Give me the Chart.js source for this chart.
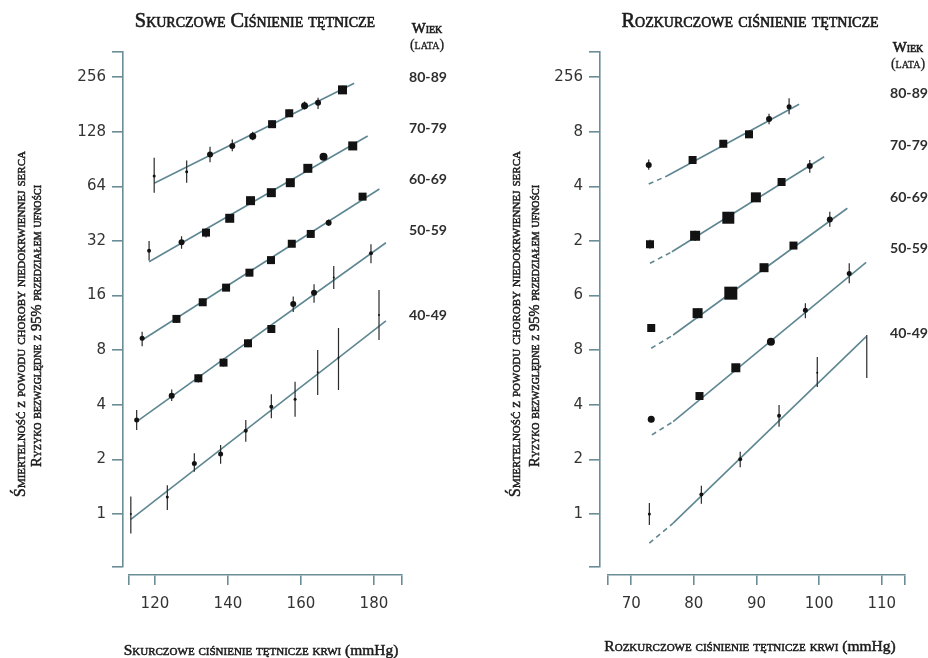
<!DOCTYPE html>
<html>
<head>
<meta charset="utf-8">
<script src="https://cdn.jsdelivr.net/npm/chart.js@4/dist/chart.umd.min.js"></script>
<style>
  html, body { margin: 0; padding: 0; background: #ffffff; }
  body { width: 928px; height: 658px; position: relative; overflow: hidden; }
  .panel { position: absolute; top: 0; width: 464px; height: 658px; }
</style>
</head>
<body>
<div class="panel" style="left:0"><canvas id="sys"></canvas></div>
<div class="panel" style="left:464px"><canvas id="dia"></canvas></div>
<script>
// ---------------- DATA ----------------
const ageGroups = ['80-89', '70-79', '60-69', '50-59', '40-49'];
const yTickValues = [1, 2, 4, 8, 16, 32, 64, 128, 256];
const sysYTickLabels = ['1', '2', '4', '8', '16', '32', '64', '128', '256'];
const diaYTickLabels = ['1', '2', '4', '8', '6', '2', '4', '8', '256'];
const sysXTicks = [120, 140, 160, 180];
const diaXTicks = [70, 80, 90, 100, 110];

// Systolic panel: one row per age group (80-89 ... 40-49)
const sysX = [
  [119.8, 128.7, 135.1, 141.2, 146.8, 152.1, 156.8, 161.0, 164.7, 171.4],
  [118.4, 127.3, 134.0, 140.5, 146.2, 151.9, 157.1, 161.9, 166.2, 174.2],
  [116.5, 125.9, 133.1, 139.5, 145.9, 151.8, 157.5, 162.7, 167.6, 176.9],
  [115.0, 124.6, 131.9, 138.8, 145.5, 151.9, 157.9, 163.6, 169.0, 179.2],
  [113.4, 123.4, 130.8, 138.0, 144.9, 151.9, 158.4, 164.6, 170.3, 181.4]
];
const sysRisk = [
  [73, 77, 96, 107, 121, 141, 162, 178, 185, 218],
  [28.3, 31.5, 35.6, 42.7, 53.4, 59.1, 67.1, 80.5, 93.3, 107],
  [9.3, 11.9, 14.7, 17.7, 21.4, 25.1, 30.9, 35, 40.4, 56.2],
  [3.3, 4.49, 5.6, 6.83, 8.73, 10.47, 14.4, 16.6, 20.1, 27.4],
  [1.0, 1.24, 1.9, 2.14, 2.88, 3.9, 4.29, 6.04, 7.27, 12.5]
];
const sysLow = [
  [59, 67, 87, 100, 115, 135, 155, 170, 171, 208],
  [25, 29, 33.5, 41, 51.5, 57, 65, 78, 90, 103],
  [8.4, 11.3, 14, 17, 20.6, 24.2, 29.8, 33.8, 38.8, 54],
  [2.9, 4.2, 5.3, 6.5, 8.3, 10, 13, 14.6, 17.4, 24.1],
  [0.78, 1.05, 1.71, 1.89, 2.5, 3.37, 3.44, 4.53, 4.83, 9.1]
];
const sysHigh = [
  [92, 89, 106, 116, 128, 148, 170, 188, 197, 230],
  [32, 34, 37.5, 44.5, 55.5, 61.5, 69.5, 83, 97, 111],
  [10.1, 12.5, 15.4, 18.4, 22.2, 26, 32, 36.3, 42, 58.5],
  [3.74, 4.85, 5.9, 7.2, 9.2, 11, 15.8, 18.5, 23.3, 30.7],
  [1.25, 1.44, 2.16, 2.4, 3.3, 4.57, 5.36, 8.02, 10.6, 17.2]
];
const sysFitX = [[119.8, 174.6], [118.4, 178.3], [116.5, 181.5], [115.0, 183.3], [113.4, 183.3]];
const sysFitY = [[66.6, 237], [24.6, 121.3], [9.1, 61.9], [3.23, 31.3], [0.935, 11.6]];

// Diastolic panel
const diaX = [
  [72.8, 79.8, 84.7, 88.8, 92.0, 95.2],
  [73.0, 80.2, 85.5, 89.9, 94.0, 98.5],
  [73.2, 80.6, 85.9, 91.2, 95.9, 101.7],
  [73.2, 80.9, 86.7, 92.3, 97.8, 104.8],
  [72.9, 81.2, 87.4, 93.6, 99.7, 107.6]
];
const diaRisk = [
  [84, 89.5, 110, 124, 150.6, 176],
  [30.7, 34.2, 43, 55.7, 67.7, 82.9],
  [10.6, 12.8, 16.5, 22.8, 30.2, 42.1],
  [3.33, 4.47, 6.4, 8.9, 13.3, 21.2],
  [1.0, 1.28, 2.0, 3.48, 6.0, 7.4]
];
const diaLow = [
  [79, 85, 105, 119, 141, 160],
  [29, 32, 41, 53, 65, 76],
  [10.1, 12, 15.6, 21.8, 29, 38.4],
  [3.2, 4.3, 6.1, 8.6, 12, 18.7],
  [0.87, 1.14, 1.81, 3.03, 5.01, 5.62]
];
const diaHigh = [
  [90, 94, 115, 130, 161, 196],
  [32.5, 36.5, 45, 58.5, 70.5, 89.5],
  [11.1, 13.6, 17.4, 23.9, 31.5, 46.4],
  [3.47, 4.65, 6.7, 9.2, 14.5, 24.1],
  [1.15, 1.43, 2.2, 3.99, 7.34, 9.7]
];
// fitted lines: start (dashed part), break, end
const diaFitX = [[72.8, 75.7, 96.8], [73.0, 76.5, 100.8], [73.2, 76.7, 104.5], [73.3, 76.7, 107.5], [72.9, 76.7, 107.5]];
const diaFitY = [[66, 73, 181.5], [24.1, 27.9, 93.3], [8.2, 9.7, 48.5], [2.73, 3.23, 24.4], [0.69, 0.89, 9.5]];

// ---------------- STYLE (marker sizes in px, shapes) ----------------
const sysMarkSize = [
  [3, 3, 6, 6, 7, 8, 8, 7, 6, 9],
  [4, 6, 8, 9, 9, 9, 9, 9, 8, 9],
  [5, 8, 8, 8, 8, 8, 8, 8, 6, 8],
  [5, 6, 8, 8, 8, 8, 6, 6, 2, 4],
  [2, 3, 5, 5, 4, 4, 3, 2, 2, 2]
];
const sysMarkShape = [
  ['c','c','c','c','c','r','r','c','c','r'],
  ['c','c','r','r','r','r','r','r','c','r'],
  ['c','r','r','r','r','r','r','r','c','r'],
  ['c','c','r','r','r','r','c','c','c','c'],
  ['c','c','c','c','c','c','c','c','c','c']
];
const diaMarkSize = [
  [6, 8, 8, 8, 6, 5],
  [8, 10, 12, 10, 8, 6],
  [8, 10, 13, 9, 8, 6],
  [7, 8, 9, 8, 5, 5],
  [3, 4, 4, 4, 2, 0]
];
const diaMarkShape = [
  ['c','r','r','r','c','c'],
  ['r','r','r','r','r','c'],
  ['r','r','r','r','r','c'],
  ['c','r','r','c','c','c'],
  ['c','c','c','c','c','c']
];

const axisColor = '#6a8d97';
const fitColor = '#5e8792';
const pointColor = '#121212';
const errColor = '#2a2a2a';
const textColor = '#1c1c1c';
const tickFont = { family: "'DejaVu Sans', sans-serif", size: 15 };
const serif = "'Liberation Serif', 'DejaVu Serif', serif";
const sans = "Lato, 'Open Sans', sans-serif";
const Y_MIN = 0.51, Y_MAX = 352.6;

// ---------------- BUILDERS ----------------
function buildDatasets(X, Y, LO, HI, FX, FY, SIZE, SHAPE, dashFirst) {
  const ds = [];
  X.forEach((xs, g) => {
    ds.push({
      type: 'scatter', label: ageGroups[g], order: 0,
      data: xs.map((x, i) => ({ x: x, y: Y[g][i] })),
      pointStyle: SHAPE[g].map(s => s === 'r' ? 'rect' : 'circle'),
      pointRadius: SIZE[g].map((s, i) => SHAPE[g][i] === 'r' ? s / Math.SQRT2 : s / 2),
      pointBackgroundColor: pointColor, pointBorderWidth: 0, showLine: false
    });
    const err = [];
    xs.forEach((x, i) => { err.push({ x: x, y: LO[g][i] }, { x: x, y: HI[g][i] }, { x: x, y: null }); });
    ds.push({
      type: 'line', label: ageGroups[g] + ' CI', order: 1, data: err,
      borderColor: errColor, borderWidth: 1.2, pointRadius: 0, spanGaps: false, fill: false
    });
    ds.push({
      type: 'line', label: ageGroups[g] + ' fit', order: 2,
      data: FX[g].map((x, i) => ({ x: x, y: FY[g][i] })),
      borderColor: fitColor, borderWidth: 1.6, pointRadius: 0, fill: false,
      segment: { borderDash: c => (dashFirst && c.p0DataIndex === 0) ? [5, 4] : undefined }
    });
  });
  return ds;
}

function buildScales(xmin, xmax, xTicks, yLabels, yWidth, padW) {
  return {
    x: {
      type: 'linear', position: 'bottom', weight: 10, min: xmin, max: xmax, bounds: 'data',
      afterBuildTicks: s => { s.ticks = [xmin].concat(xTicks, [xmax]).map(v => ({ value: v })); },
      afterFit: s => { s.height = 83; },
      grid: { display: true, drawOnChartArea: false, drawTicks: true, tickLength: 10, color: axisColor, lineWidth: 1.6 },
      border: { display: true, color: axisColor, width: 1.6 },
      ticks: { autoSkip: false, maxRotation: 0, padding: 10, color: '#333', font: tickFont,
               callback: v => xTicks.includes(v) ? String(v) : '' }
    },
    xPad: {
      type: 'linear', axis: 'x', position: 'bottom', weight: 0, display: true,
      grid: { display: false }, ticks: { display: false }, border: { display: false },
      afterFit: s => { s.height = 8; }
    },
    y: {
      type: 'logarithmic', position: 'left', weight: 10, min: Y_MIN, max: Y_MAX, bounds: 'data',
      afterBuildTicks: s => { s.ticks = [Y_MIN].concat(yTickValues, [Y_MAX]).map(v => ({ value: v })); },
      afterFit: s => { s.width = yWidth; },
      grid: { display: true, drawOnChartArea: false, drawTicks: true, tickLength: 11, color: axisColor, lineWidth: 1.6 },
      border: { display: true, color: axisColor, width: 1.6 },
      ticks: { autoSkip: false, padding: 6, color: '#333', font: tickFont,
               callback: v => { const i = yTickValues.indexOf(v); return i >= 0 ? yLabels[i] : ''; } }
    },
    yPad: {
      type: 'linear', axis: 'y', position: 'left', weight: 0, display: true,
      grid: { display: false }, ticks: { display: false }, border: { display: false },
      afterFit: s => { s.width = padW; }
    }
  };
}

// text plugin: titles, axis titles, age labels (small caps where needed)
function setFont(ctx, part, size, family, weight) {
  const base = (weight ? weight + ' ' : '') + size + 'px ' + family;
  ctx.font = base;
  if ('fontVariantCaps' in ctx) {
    ctx.fontVariantCaps = part.sc ? 'small-caps' : 'normal';
  } else if (part.sc) {
    ctx.font = 'small-caps ' + base;
  }
}
function measureParts(ctx, parts, size, family, weight) {
  let w = 0;
  parts.forEach(p => { setFont(ctx, p, size, family, weight); w += ctx.measureText(p.t).width; });
  return w;
}
const textPlugin = {
  id: 'panelText',
  afterDraw(chart, args, opts) {
    const ctx = chart.ctx;
    (opts.items || []).forEach(item => {
      let size = item.size || 16;
      if (item.fit) size = size * item.fit / measureParts(ctx, item.parts, size, item.family, item.weight);
      const total = measureParts(ctx, item.parts, size, item.family, item.weight);
      ctx.save();
      ctx.translate(item.x, item.y);
      if (item.rotate) ctx.rotate(item.rotate);
      ctx.fillStyle = item.color || textColor;
      ctx.strokeStyle = item.color || textColor;
      ctx.lineWidth = item.stroke || 0;
      ctx.lineJoin = 'round';
      ctx.textBaseline = 'middle';
      ctx.textAlign = 'left';
      let pos = item.align === 'left' ? 0 : -total / 2;
      item.parts.forEach(p => {
        setFont(ctx, p, size, item.family, item.weight);
        ctx.fillText(p.t, pos, 0);
        if (item.stroke) ctx.strokeText(p.t, pos, 0);
        pos += ctx.measureText(p.t).width;
      });
      if ('fontVariantCaps' in ctx) ctx.fontVariantCaps = 'normal';
      ctx.restore();
    });
  }
};

const yTitle1 = 'Śmiertelność z powodu choroby niedokrwiennej serca';
const yTitle2 = 'Ryzyko bezwzględne z 95% przedziałem ufności';

function panelTexts(o) {
  const items = [
    { parts: [{ t: o.title, sc: true }], x: o.titleX, y: 22, fit: o.titleW, family: serif, stroke: 0.6 },
    { parts: [{ t: 'Wiek', sc: true }], x: o.wiekX, y: o.wiekY, fit: 31, family: serif, stroke: 0.6 },
    { parts: [{ t: '(lata)', sc: true }], x: o.wiekX, y: o.lataY, fit: 33, family: serif, stroke: 0.3 },
    { parts: [{ t: yTitle1, sc: true }], x: o.yT1, y: 324, fit: 344, family: serif, rotate: -Math.PI / 2, stroke: 0.5 },
    { parts: [{ t: yTitle2, sc: true }], x: o.yT2, y: 326, fit: 282, family: serif, rotate: -Math.PI / 2, stroke: 0.5 },
    { parts: [{ t: o.xTitle + ' ', sc: true }, { t: '(mmHg)', sc: false }], x: o.xTitleX, y: o.xTitleY, fit: o.xTitleW, family: serif, stroke: 0.5 }
  ];
  ageGroups.forEach((a, i) => {
    items.push({ parts: [{ t: a, sc: false }], x: o.ageX, y: o.ageY[i], fit: 38, family: sans, weight: 'bold', align: 'left', color: '#2e2e2e' });
  });
  return items;
}

function makeChart(id, datasets, scales, padding, items) {
  return new Chart(document.getElementById(id), {
    type: 'scatter',
    data: { datasets: datasets },
    options: {
      responsive: true, maintainAspectRatio: false, animation: false, devicePixelRatio: 1,
      layout: { padding: padding },
      scales: scales,
      plugins: { legend: { display: false }, tooltip: { enabled: false }, title: { display: false },
                 panelText: { items: items } }
    },
    plugins: [textPlugin]
  });
}

makeChart('sys',
  buildDatasets(sysX, sysRisk, sysLow, sysHigh, sysFitX, sysFitY, sysMarkSize, sysMarkShape, false),
  buildScales(112.9, 187.7, sysXTicks, sysYTickLabels, 115, 6),
  { left: 8, right: 62, top: 52, bottom: 0 },
  panelTexts({ title: 'Skurczowe Ciśnienie tętnicze', titleX: 255, titleW: 240,
    wiekX: 427, wiekY: 29, lataY: 45, yT1: 21, yT2: 37,
    xTitle: 'Skurczowe ciśnienie tętnicze krwi', xTitleX: 261, xTitleY: 651, xTitleW: 268,
    ageX: 409, ageY: [77, 128, 179, 230, 315] })
);

makeChart('dia',
  buildDatasets(diaX, diaRisk, diaLow, diaHigh, diaFitX, diaFitY, diaMarkSize, diaMarkShape, true),
  buildScales(66.3, 113.7, diaXTicks, diaYTickLabels, 128, 8),
  { left: 8, right: 23, top: 52, bottom: 0 },
  panelTexts({ title: 'Rozkurczowe ciśnienie tętnicze', titleX: 286, titleW: 257,
    wiekX: 444, wiekY: 48, lataY: 64, yT1: 52, yT2: 71,
    xTitle: 'Rozkurczowe ciśnienie tętnicze krwi', xTitleX: 286, xTitleY: 647, xTitleW: 285,
    ageX: 426, ageY: [93, 145, 197, 248, 333] })
);
</script>
</body>
</html>
